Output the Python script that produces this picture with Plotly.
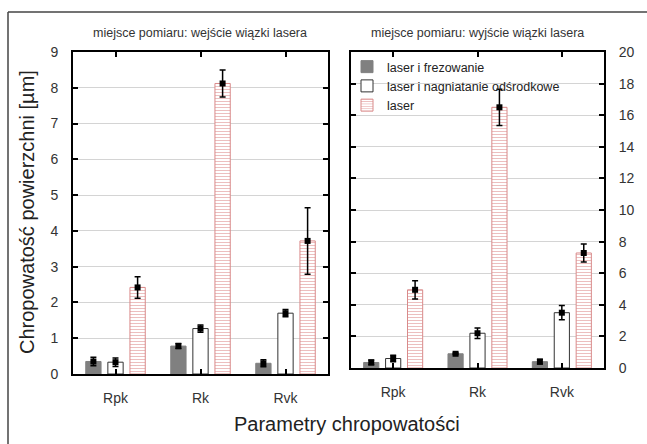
import plotly.graph_objects as go

categories = ["Rpk", "Rk", "Rvk"]
series_names = ["laser i frezowanie", "laser i nagniatanie odśrodkowe", "laser"]

# left panel: wejście wiązki lasera
in_frez = [0.35, 0.78, 0.30]
in_frez_err = [0.12, 0.07, 0.10]
in_nagn = [0.33, 1.27, 1.70]
in_nagn_err = [0.12, 0.10, 0.10]
in_laser = [2.42, 8.12, 3.72]
in_laser_err = [0.30, 0.38, 0.93]

# right panel: wyjście wiązki lasera
out_frez = [0.35, 0.90, 0.40]
out_frez_err = [0.15, 0.05, 0.15]
out_nagn = [0.60, 2.20, 3.50]
out_nagn_err = [0.20, 0.33, 0.45]
out_laser = [4.95, 16.50, 7.28]
out_laser_err = [0.58, 1.15, 0.57]

W, H = 647, 444
FONT = "Liberation Sans, Arial, sans-serif"

offsets = [-0.26, 0.0, 0.26]
bar_w = 0.18
styles = [
    dict(color="#808080", line=dict(color="#808080", width=1)),
    dict(color="white", line=dict(color="#333333", width=1)),
    dict(color="white", line=dict(color="#d98a8a", width=1),
         pattern=dict(shape="-", fgcolor="#d98080", bgcolor="white", size=3, solidity=0.35)),
]

fig = go.Figure()

panels = [
    ("x", "y", [in_frez, in_nagn, in_laser], [in_frez_err, in_nagn_err, in_laser_err], False),
    ("x2", "y2", [out_frez, out_nagn, out_laser], [out_frez_err, out_nagn_err, out_laser_err], True),
]

for xa, ya, vals, errs, show in panels:
    for k in range(3):
        xs = [i + offsets[k] for i in range(len(categories))]
        fig.add_trace(go.Bar(
            x=xs, y=vals[k], width=bar_w, name=series_names[k],
            marker=styles[k], xaxis=xa, yaxis=ya, showlegend=show,
        ))
    for k in range(3):
        xs = [i + offsets[k] for i in range(len(categories))]
        fig.add_trace(go.Scatter(
            x=xs, y=vals[k], mode="markers", xaxis=xa, yaxis=ya, showlegend=False,
            marker=dict(symbol="square", size=6, color="black"),
            error_y=dict(type="data", array=errs[k], visible=True, color="black",
                         thickness=1.5, width=3),
        ))

def px_x(p):
    return p / W

def px_y(p):
    return 1 - p / H

axis_common = dict(
    showline=True, linecolor="black", linewidth=2, mirror="ticks",
    ticks="inside", ticklen=5, tickwidth=2, tickcolor="black",
    tickfont=dict(family=FONT, size=14, color="#333333"),
    zeroline=False, automargin=False,
)

fig.update_layout(
    width=W, height=H,
    margin=dict(l=0, r=0, t=0, b=0, autoexpand=False),
    paper_bgcolor="white", plot_bgcolor="white",
    font=dict(family=FONT, color="#222222"),
    barmode="overlay",
    xaxis=dict(domain=[px_x(73), px_x(328)], range=[-0.5, 2.5],
               tickvals=list(range(len(categories))), ticktext=categories,
               showgrid=False, anchor="y", ticklabelstandoff=10, **axis_common),
    yaxis=dict(domain=[px_y(374), px_y(52)], range=[0, 9], dtick=1,
               showgrid=True, gridcolor="#d4d4d4", gridwidth=1,
               anchor="x", ticklabelstandoff=10, **axis_common),
    xaxis2=dict(domain=[px_x(351), px_x(604)], range=[-0.5, 2.5],
                tickvals=list(range(len(categories))), ticktext=categories,
                showgrid=False, anchor="y2", ticklabelstandoff=10, **axis_common),
    yaxis2=dict(domain=[px_y(368), px_y(52)], range=[0, 20], dtick=2,
                showgrid=True, gridcolor="#d4d4d4", gridwidth=1, side="right",
                anchor="x2", ticklabelstandoff=10, **axis_common),
    legend=dict(x=px_x(347), y=px_y(52), xanchor="left", yanchor="top",
                bgcolor="rgba(0,0,0,0)", font=dict(family=FONT, size=12.5, color="#222222"),
                itemwidth=30, tracegroupgap=0),
    showlegend=True,
)

ann = dict(xref="paper", yref="paper", showarrow=False, xanchor="center", yanchor="middle")
fig.add_annotation(text="miejsce pomiaru: wejście wiązki lasera",
                   x=px_x(200), y=px_y(33),
                   font=dict(family=FONT, size=12.5, color="#333333"), **ann)
fig.add_annotation(text="miejsce pomiaru: wyjście wiązki lasera",
                   x=px_x(477), y=px_y(33),
                   font=dict(family=FONT, size=12.5, color="#333333"), **ann)
fig.add_annotation(text="Chropowatość powierzchni [µm]",
                   x=px_x(27), y=px_y(212), textangle=-90,
                   font=dict(family=FONT, size=20, color="#222222"), **ann)
fig.add_annotation(text="Parametry chropowatości",
                   x=px_x(347), y=px_y(424),
                   font=dict(family=FONT, size=20, color="#222222"), **ann)

# partial outer frame (top and left edges)
fig.add_shape(type="line", xref="paper", yref="paper", x0=px_x(8), x1=1, y0=px_y(12), y1=px_y(12),
              line=dict(color="#444444", width=1.5))
fig.add_shape(type="line", xref="paper", yref="paper", x0=px_x(8), x1=px_x(8), y0=px_y(12), y1=0,
              line=dict(color="#444444", width=1.5))

fig.write_html("out.html", config={"displayModeBar": False},
               post_script="document.body.style.margin='0';document.body.style.overflow='hidden';")
